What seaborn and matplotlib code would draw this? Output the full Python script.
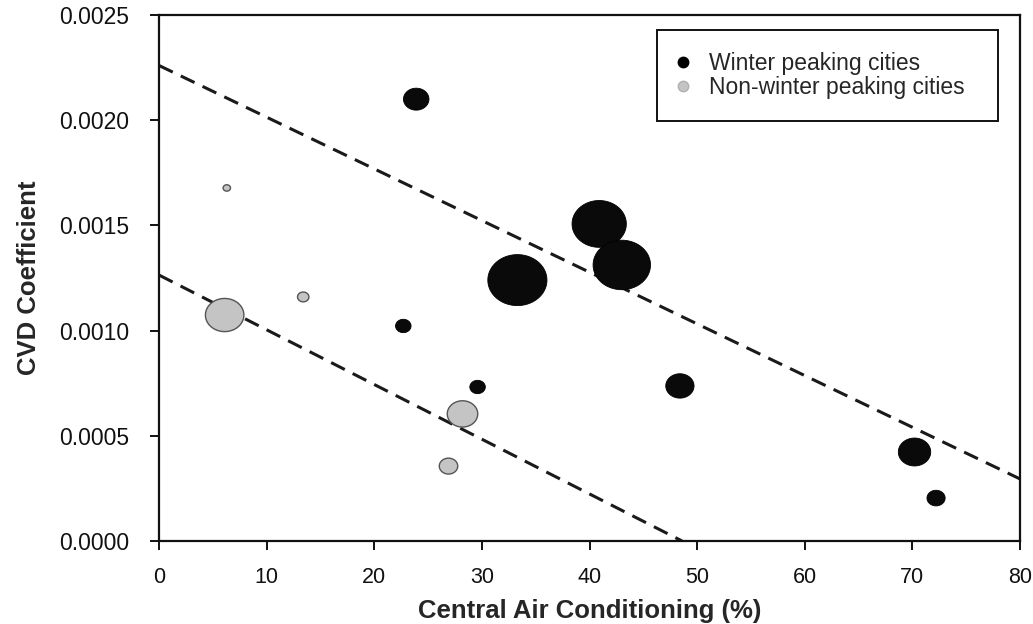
import numpy as np
import pandas as pd
import matplotlib
matplotlib.use("Agg")
import matplotlib.pyplot as plt
from matplotlib.path import Path
from matplotlib.lines import Line2D
import seaborn as sns

# ---------------- data ----------------
winter_ac = [23.9, 40.9, 43.0, 33.3, 22.7, 29.6, 48.4, 70.2, 72.2]
winter_cvd = [0.00210, 0.001507, 0.001312, 0.00124, 0.001022, 0.000732, 0.000737, 0.000423, 0.000204]
winter_weight = [650, 2950, 3300, 3500, 240, 240, 800, 1050, 330]

nonwinter_ac = [6.3, 6.1, 13.4, 28.2, 26.9]
nonwinter_cvd = [0.001678, 0.001074, 0.00116, 0.000604, 0.000356]
nonwinter_weight = [55, 1480, 130, 930, 340]

# fitted trend lines (end points)
fit_winter_x = [0, 80]
fit_winter_y = [0.00226, 0.000295]
fit_nonwinter_x = [0, 48.6]
fit_nonwinter_y = [0.001264, 0.0]

x_ticks = [0, 10, 20, 30, 40, 50, 60, 70, 80]
y_ticks = [0.0, 0.0005, 0.0010, 0.0015, 0.0020, 0.0025]

legend_labels = ["Winter peaking cities", "Non-winter peaking cities"]
x_label = "Central Air Conditioning (%)"
y_label = "CVD Coefficient"

# ---------------- style ----------------
sns.set_style("ticks")
plt.rcParams["font.family"] = ["Liberation Sans", "DejaVu Sans"]

W, H = 1033, 624
fig = plt.figure(figsize=(W / 100, H / 100), dpi=100)
ax = fig.add_axes([159 / W, (H - 541) / H, (1020 - 159) / W, (541 - 15) / H])

# elliptical marker (slightly wider than tall, as in the reference)
t = np.linspace(0, 2 * np.pi, 73)
ell = Path(np.column_stack([1.16 * np.cos(t), np.sin(t)]), closed=True)

df_w = pd.DataFrame({"ac": winter_ac, "cvd": winter_cvd, "w": winter_weight})
df_n = pd.DataFrame({"ac": nonwinter_ac, "cvd": nonwinter_cvd, "w": nonwinter_weight})
df_fw = pd.DataFrame({"x": fit_winter_x, "y": fit_winter_y})
df_fn = pd.DataFrame({"x": fit_nonwinter_x, "y": fit_nonwinter_y})

wmax = max(max(winter_weight), max(nonwinter_weight))
k = 0.72 ** 2  # px^2 -> pt^2

dash = (0, (5.0, 2.9))
sns.lineplot(data=df_fw, x="x", y="y", ax=ax, color="#1a1a1a", lw=2.2,
             linestyle=dash, zorder=2, legend=False)
sns.lineplot(data=df_fn, x="x", y="y", ax=ax, color="#1a1a1a", lw=2.2,
             linestyle=dash, zorder=2, legend=False)

sns.scatterplot(data=df_w, x="ac", y="cvd", size="w", sizes=(0, k * wmax),
                size_norm=(0, wmax), marker=ell, color="#0a0a0a",
                edgecolor="#000000", linewidth=0.6, ax=ax, legend=False, zorder=3)
sns.scatterplot(data=df_n, x="ac", y="cvd", size="w", sizes=(0, k * wmax),
                size_norm=(0, wmax), marker=ell, color="#c4c4c4",
                edgecolor="#555555", linewidth=1.0, ax=ax, legend=False, zorder=3)

ax.set_xlim(0, 80)
ax.set_ylim(0, 0.0025)
ax.set_xticks(x_ticks)
ax.set_xticklabels([str(v) for v in x_ticks])
ax.set_yticks(y_ticks)
ax.set_yticklabels([f"{v:.4f}" for v in y_ticks])

for s in ax.spines.values():
    s.set_visible(True)
    s.set_linewidth(1.6)
    s.set_color("#111111")
ax.tick_params(axis="both", direction="out", length=6.5, width=1.4, color="#111111",
               labelcolor="#111111")
ax.tick_params(axis="y", pad=15, labelsize=16.5)
ax.tick_params(axis="x", pad=12, labelsize=15.5)

ax.set_xlabel(x_label, fontsize=18.5, fontweight="bold", labelpad=8)
ax.set_ylabel(y_label, fontsize=18.5, fontweight="bold", labelpad=13)

handles = [
    Line2D([], [], ls="", marker="o", markersize=7.5, markerfacecolor="#000000",
           markeredgecolor="#000000"),
    Line2D([], [], ls="", marker="o", markersize=7.5, markerfacecolor="#c4c4c4",
           markeredgecolor="#b0b0b0"),
]
ax_w = 1020 - 159
ax_h = 541 - 15
x0 = (657 - 159) / ax_w
x1 = (998 - 159) / ax_w
ytop = (541 - 30) / ax_h
leg = ax.legend(handles, legend_labels, loc="upper left",
                bbox_to_anchor=(x0, ytop - 0.3, x1 - x0, 0.3), mode="expand",
                borderaxespad=0, frameon=True, fancybox=False, fontsize=16.5,
                borderpad=0.95, handlelength=0.4, handletextpad=0.9, labelspacing=0.05)
fr = leg.get_frame()
fr.set_edgecolor("#111111")
fr.set_linewidth(1.4)
fr.set_facecolor("white")
fr.set_alpha(1)

fig.savefig("out.png", dpi=100)
